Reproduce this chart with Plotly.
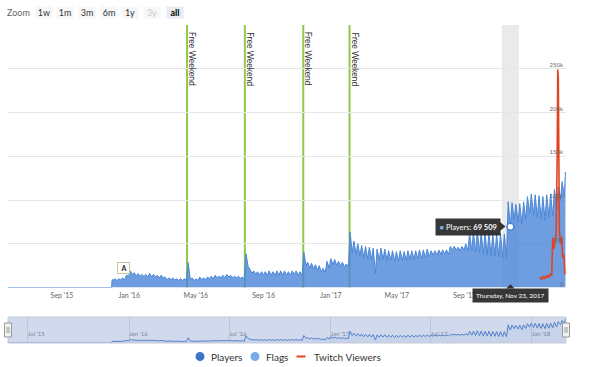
import plotly.graph_objects as go
import pandas as pd

# ---------------- data ----------------
range_start, range_end = "2015-05-26", "2018-03-04"

players_prelaunch_dates = ["2015-05-26", "2015-11-30"]
players_prelaunch_k = [0, 0]
players_launch_dates = ["2015-12-01", "2015-12-03"]
players_launch_k = [9, 8.5]

# weekly Sunday peaks / Thursday troughs (thousands), weeks starting 2015-12-06
week_sundays = pd.date_range("2015-12-06", "2018-02-25", freq="7D")
players_peak_k = [
    10, 10, 11, 14,                     # Dec 2015
    19, 17, 16, 15, 15,                 # Jan 2016
    16, 15, 14, 14,                     # Feb
    12, 11, 11, 10,                     # Mar
    10, 10, 28.5, 11,                   # Apr
    10, 12, 11, 12, 13,                 # May
    14, 13, 14, 15,                     # Jun
    14, 13, 13, 12, 38.7,               # Jul
    21, 19, 18, 18,                     # Aug
    18, 19, 18, 19,                     # Sep
    19, 19, 18, 19, 19,                 # Oct
    18, 40.6, 29, 28,                   # Nov
    26, 25, 22, 30,                     # Dec
    33, 32, 30, 29, 27,                 # Jan 2017
    63.5, 53, 50, 48,                   # Feb
    47, 46, 45, 44,                     # Mar
    45, 44, 42, 42, 41,                 # Apr
    42, 41, 42, 42,                     # May
    42, 43, 43, 44,                     # Jun
    42, 42, 43, 43, 43,                 # Jul
    47, 47, 46, 47,                     # Aug
    50, 62, 64, 66,                     # Sep
    64, 63, 63, 62, 62,                 # Oct
    62, 61, 98, 97,                     # Nov
    95, 96, 98, 104, 107,               # Dec
    106, 105, 104, 106,                 # Jan 2018
    107, 112, 115, 121,                 # Feb
]
players_trough_k = [
    8, 8.5, 9, 13,
    15, 13, 13, 12.5, 12,
    12, 12, 11, 11,
    9, 9, 8.5, 8,
    8, 8.5, 9, 8,
    8, 9, 9, 10, 10,
    11, 11, 11, 12,
    11, 11, 10.5, 10, 24,
    16, 15, 14, 14,
    14, 14, 14, 14,
    14, 14, 14, 15, 14,
    14, 25, 22, 21,
    20, 18, 17, 22,
    26, 25, 24, 23, 24,
    40, 38, 36, 34,
    33, 32, 15.8, 31,
    32, 31, 31, 30, 30,
    31, 31, 32, 32,
    33, 33, 34, 35,
    37, 37, 38, 38, 38,
    43, 43, 42, 43,
    42, 42, 40, 40,
    38, 37, 36, 36, 35,
    34, 34, 69.509, 78,
    75, 72, 78, 85, 83,
    80, 78, 77, 80,
    82, 86, 100, 104,
]
players_final_date, players_final_k = "2018-03-03", 132

twitch_dates = ["2018-01-16", "2018-01-19", "2018-01-22", "2018-01-25", "2018-01-28",
                "2018-01-31", "2018-02-03", "2018-02-06", "2018-02-08", "2018-02-10",
                "2018-02-12", "2018-02-14", "2018-02-16", "2018-02-17", "2018-02-18",
                "2018-02-20", "2018-02-22", "2018-02-24", "2018-02-26", "2018-02-28",
                "2018-03-02"]
twitch_k = [12, 9, 13, 10, 14, 11, 15, 14, 57, 44, 52, 60, 150, 249, 240,
            64, 50, 58, 34, 38, 15]

free_weekend_dates = ["2016-04-15", "2016-07-29", "2016-11-12", "2017-02-04"]
free_weekend_label = "Free Weekend"

flag_dates = ["2015-12-10"]
flag_titles = ["A"]

hover_date = "2017-11-23"
hover_label = "Thursday, Nov 23, 2017"

y_tickvals = [0, 50000, 100000, 150000, 200000, 250000, 300000]
y_ticktext = ["", "50k", "100k", "150k", "200k", "250k", ""]
y_zero_label = "0"

x_tickvals = ["2015-09-01", "2016-01-01", "2016-05-01", "2016-09-01",
              "2017-01-01", "2017-05-01", "2017-09-01"]
x_ticktext = ["Sep '15", "Jan '16", "May '16", "Sep '16", "Jan '17", "May '17", "Sep '17"]

nav_tickvals = ["2015-07-01", "2016-01-01", "2016-07-01", "2017-01-01", "2017-07-01", "2018-01-01"]
nav_ticktext = ["Jul '15", "Jan '16", "Jul '16", "Jan '17", "Jul '17", "Jan '18"]

zoom_buttons = ["1w", "1m", "3m", "6m", "1y", "3y", "all"]

legend_names = ["Players", "Flags", "Twitch Viewers"]
legend_colors = ["#3d75c9", "#78ace4", "#e2431e"]

# ---------------- build series ----------------
px_x, px_y = [], []
for d, v in zip(players_prelaunch_dates, players_prelaunch_k):
    px_x.append(pd.Timestamp(d)); px_y.append(v * 1000)
for d, v in zip(players_launch_dates, players_launch_k):
    px_x.append(pd.Timestamp(d)); px_y.append(v * 1000)
for s, p, t in zip(week_sundays, players_peak_k, players_trough_k):
    px_x.append(s); px_y.append(p * 1000)
    px_x.append(s + pd.Timedelta(days=4)); px_y.append(t * 1000)
px_x.append(pd.Timestamp(players_final_date)); px_y.append(players_final_k * 1000)

tw_x = [pd.Timestamp(d) for d in twitch_dates]
tw_y = [v * 1000 for v in twitch_k]

hover_ts = pd.Timestamp(hover_date)
hover_val = px_y[px_x.index(hover_ts)]

# ---------------- layout helpers ----------------
W, H = 600, 367
L, R, T, B = 8, 566, 25, 343


def PX(p):
    return (p - L) / (R - L)


def PY(p):
    return (B - p) / (B - T)


FONT = "Lato, 'Open Sans', sans-serif"
BLUE_LINE = "#4a86d8"
BLUE_FILL = "rgba(74,134,216,0.80)"
RED = "#e2431e"
GREEN = "#92c84a"

fig = go.Figure()

fig.add_trace(go.Scatter(
    x=px_x, y=px_y, mode="lines", name="Players", showlegend=False,
    line=dict(color=BLUE_LINE, width=1), fill="tozeroy", fillcolor=BLUE_FILL,
    xaxis="x", yaxis="y", hoverinfo="skip"))
fig.add_trace(go.Scatter(
    x=tw_x, y=tw_y, mode="lines", name="Twitch Viewers", showlegend=False,
    line=dict(color=RED, width=1.6), xaxis="x", yaxis="y", hoverinfo="skip"))
fig.add_trace(go.Scatter(
    x=[hover_ts], y=[hover_val], mode="markers", showlegend=False,
    marker=dict(color="white", size=7, line=dict(color=BLUE_LINE, width=1.5)),
    xaxis="x", yaxis="y", hoverinfo="skip"))
fig.add_trace(go.Scatter(
    x=px_x, y=px_y, mode="lines", showlegend=False,
    line=dict(color="#4a7fd0", width=1), fill="tozeroy",
    fillcolor="rgba(74,127,208,0.08)", xaxis="x2", yaxis="y2", hoverinfo="skip"))

shapes = []
annotations = []

# crosshair band
shapes.append(dict(type="rect", xref="x", yref="paper",
                   x0=hover_ts - pd.Timedelta(days=15.5), x1=hover_ts + pd.Timedelta(days=15.5),
                   y0=PY(287.5), y1=1, fillcolor="rgba(190,190,190,0.32)",
                   line=dict(width=0), layer="below"))

# free weekend plot lines + labels
for d in free_weekend_dates:
    shapes.append(dict(type="line", xref="x", yref="paper", x0=d, x1=d,
                       y0=PY(287.5), y1=1, line=dict(color=GREEN, width=2), layer="below"))
    annotations.append(dict(x=d, xref="x", y=PY(59), yref="paper", text=free_weekend_label,
                            textangle=90, showarrow=False, xanchor="center", yanchor="middle",
                            xshift=5, font=dict(family=FONT, size=8.5, color="#333333")))

# flags
for d, t in zip(flag_dates, flag_titles):
    annotations.append(dict(x=d, xref="x", y=PY(268.3), yref="paper", text="<b>%s</b>" % t,
                            showarrow=False, xanchor="left", yanchor="middle",
                            bgcolor="white", bordercolor="#c3c99a", borderwidth=1,
                            borderpad=1.5, width=8, height=7,
                            font=dict(family=FONT, size=7, color="#222222")))

# y "0" label (inside, just above the baseline)
annotations.append(dict(x=1, xref="paper", y=0, yref="y", text=y_zero_label,
                        showarrow=False, xanchor="right", yanchor="middle", yshift=4,
                        font=dict(family=FONT, size=6, color="#666666")))

# tooltip (players)
TT_BG = "rgba(38,38,38,0.92)"
annotations.append(dict(x=PX(501), xref="paper", y=PY(226.5), yref="paper",
                        text="<span style='color:#79aef0'>●</span> Players: <b>69 509</b>",
                        showarrow=False, xanchor="right", yanchor="middle", bgcolor=TT_BG,
                        borderpad=3.5, font=dict(family=FONT, size=7.5, color="white")))
shapes.append(dict(type="path", xref="paper", yref="paper",
                   path="M %f %f L %f %f L %f %f Z" % (PX(500), PY(222), PX(505.5), PY(226.5),
                                                       PX(500), PY(231)),
                   fillcolor=TT_BG, line=dict(width=0)))
# tooltip (date)
annotations.append(dict(x=hover_date, xref="x", y=PY(295.5), yref="paper", text=hover_label,
                        showarrow=False, xanchor="center", yanchor="middle", bgcolor=TT_BG,
                        borderpad=3, font=dict(family=FONT, size=6.5, color="white")))
shapes.append(dict(type="path", xref="paper", yref="paper",
                   path="M %f %f L %f %f L %f %f Z" % (PX(506.2), PY(288.5), PX(510.4), PY(284.3),
                                                       PX(514.6), PY(288.5)),
                   fillcolor=TT_BG, line=dict(width=0)))

# navigator mask, outline and handles
shapes.append(dict(type="rect", xref="paper", yref="paper", x0=0, x1=1, y0=0, y1=PY(317),
                   fillcolor="rgba(102,133,194,0.30)", line=dict(color="#c4c9d6", width=1),
                   layer="above"))
for hx in (L, R):
    shapes.append(dict(type="rect", xref="paper", yref="paper",
                       x0=PX(hx - 3.5), x1=PX(hx + 3.5), y0=PY(337), y1=PY(323),
                       fillcolor="#f2f2f2", line=dict(color="#999999", width=1)))
    for dx in (-1, 1):
        shapes.append(dict(type="line", xref="paper", yref="paper",
                           x0=PX(hx + dx), x1=PX(hx + dx), y0=PY(333), y1=PY(327),
                           line=dict(color="#999999", width=1)))

# range selector
annotations.append(dict(x=PX(18.5), xref="paper", y=PY(12.5), yref="paper", text="Zoom",
                        showarrow=False, xanchor="center", yanchor="middle",
                        font=dict(family=FONT, size=9, color="#666666")))
btn_centers = [43.5, 65, 86.5, 108.5, 130, 152.5, 175]
for lab, cx in zip(zoom_buttons, btn_centers):
    sel = lab == "all"
    dis = lab == "3y"
    annotations.append(dict(x=PX(cx), xref="paper", y=PY(12.5), yref="paper",
                            text="<b>%s</b>" % lab if sel else lab, showarrow=False,
                            xanchor="center", yanchor="middle",
                            bgcolor="#e6ebf5" if sel else "#f7f7f7", width=16, height=11,
                            borderpad=0,
                            font=dict(family=FONT, size=9,
                                      color="#000000" if sel else ("#cccccc" if dis else "#333333"))))

# legend (drawn: symbol + text)
LEG_Y = 356.5
leg_symbol_x = [200, 255, 301]
leg_text_x = [209, 264, 312]
for i, (name, col) in enumerate(zip(legend_names, legend_colors)):
    sx = leg_symbol_x[i]
    if name == "Twitch Viewers":
        shapes.append(dict(type="line", xref="paper", yref="paper",
                           x0=PX(sx - 4.5), x1=PX(sx + 4.5), y0=PY(LEG_Y), y1=PY(LEG_Y),
                           line=dict(color=col, width=2)))
    else:
        shapes.append(dict(type="circle", xref="paper", yref="paper",
                           x0=PX(sx - 4.5), x1=PX(sx + 4.5), y0=PY(LEG_Y + 4.5), y1=PY(LEG_Y - 4.5),
                           fillcolor=col, line=dict(width=0)))
    annotations.append(dict(x=PX(leg_text_x[i]), xref="paper", y=PY(LEG_Y), yref="paper",
                            text=name, showarrow=False, xanchor="left", yanchor="middle",
                            font=dict(family=FONT, size=10, color="#333333")))

fig.update_layout(
    width=W, height=H,
    margin=dict(l=L, r=W - R, t=T, b=H - B, autoexpand=False),
    paper_bgcolor="white", plot_bgcolor="rgba(0,0,0,0)",
    font=dict(family=FONT, color="#333333"),
    showlegend=False,
    xaxis=dict(domain=[0, 1], range=[range_start, range_end], anchor="y",
               tickvals=x_tickvals, ticktext=x_ticktext, showgrid=False, zeroline=False,
               showline=False, ticks="", tickfont=dict(family=FONT, size=7, color="#666666"),
               ticklabelstandoff=2, fixedrange=True),
    yaxis=dict(domain=[PY(287.5), 1], range=[0, 300000], anchor="x", side="right",
               tickvals=y_tickvals, ticktext=y_ticktext, ticklabelposition="inside",
               ticklabelshift=-4, ticklabelstandoff=0, showgrid=True, gridcolor="#e6e6e6",
               gridwidth=1, zeroline=False, showline=False, ticks="",
               tickfont=dict(family=FONT, size=6, color="#666666"), fixedrange=True),
    xaxis2=dict(domain=[0, 1], range=[range_start, range_end], anchor="y2",
                tickvals=nav_tickvals, ticktext=nav_ticktext, ticklabelposition="inside right",
                showgrid=True, gridcolor="#e3e3e3", zeroline=False, showline=False, ticks="",
                tickfont=dict(family=FONT, size=6, color="#888888"), fixedrange=True),
    yaxis2=dict(domain=[0, PY(317)], range=[0, 140000], anchor="x2", visible=False,
                fixedrange=True),
    shapes=shapes, annotations=annotations,
)

fig.write_html("out.html", config={"displayModeBar": False},
               post_script="document.body.style.margin='0px';document.body.style.padding='0px';")
